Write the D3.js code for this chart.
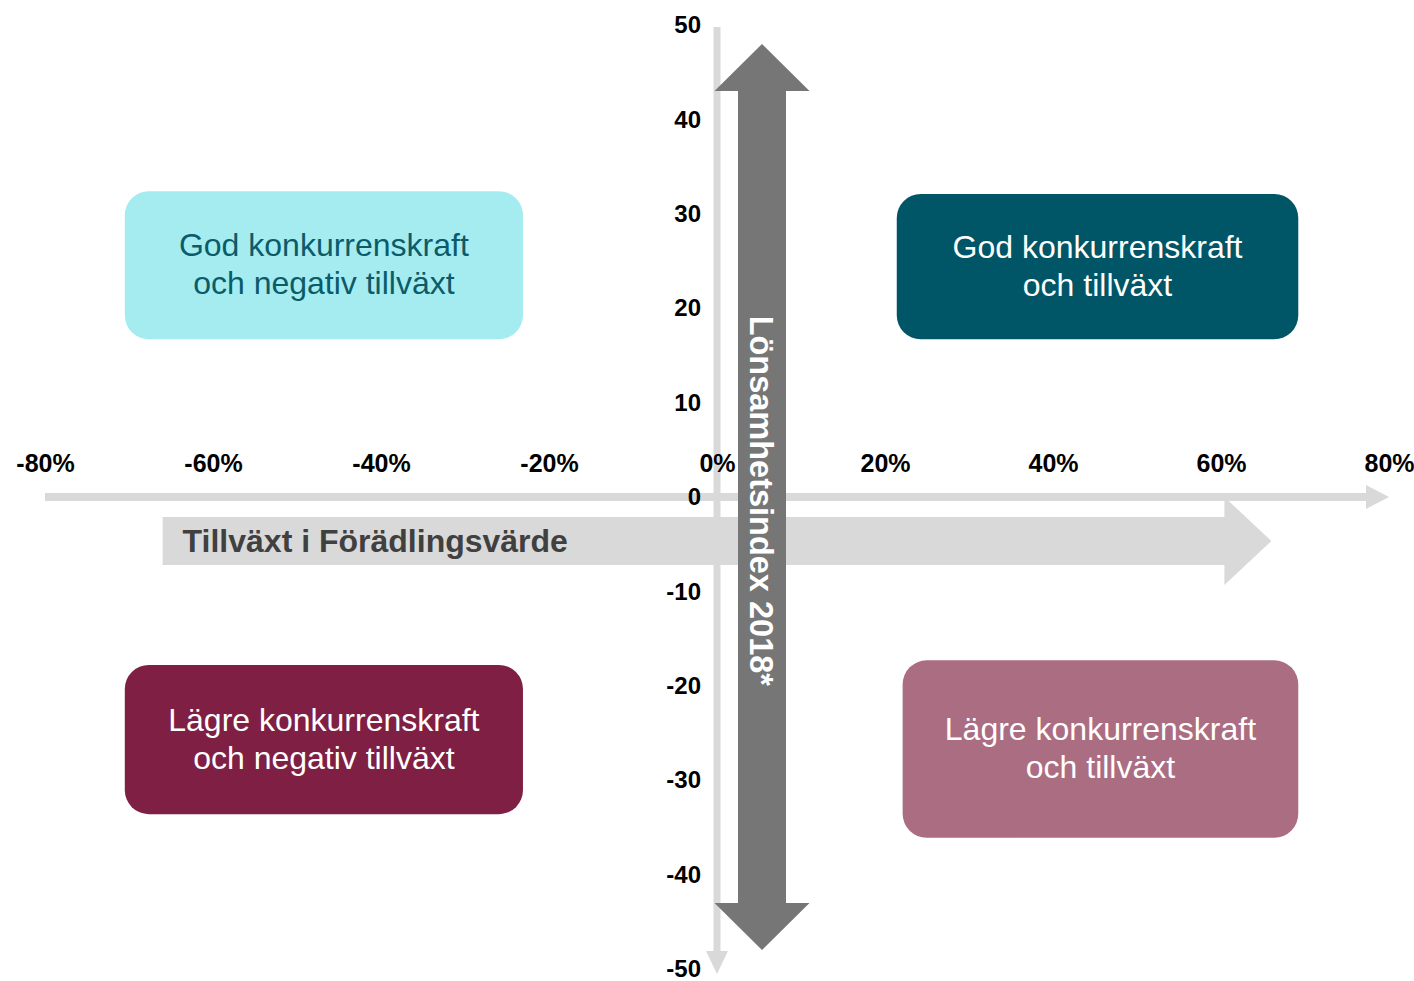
<!DOCTYPE html>
<html>
<head>
<meta charset="utf-8">
<script src="https://cdn.jsdelivr.net/npm/d3@7"></script>
<style>
  body { margin: 0; background: #fff; }
  svg { display: block; font-family: "Liberation Sans", Arial, sans-serif; }
</style>
</head>
<body>
<svg id="chart" width="1414" height="981"></svg>
<script>
// tick values
const xTicks = [-80, -60, -40, -20, 0, 20, 40, 60, 80];
const yTicks = [50, 40, 30, 20, 10, 0, -10, -20, -30, -40, -50];

// quadrant boxes, extents in data units (x %, y index)
const quadrantNames = ["topLeft", "topRight", "bottomLeft", "bottomRight"];
const quadrantX = [[-70.5, -23.1], [21.4, 69.2], [-70.5, -23.1], [22.1, 69.2]];
const quadrantY = [[32.4, 16.7], [32.1, 16.7], [-17.8, -33.6], [-17.3, -36.1]];
const quadrantLines = [
  ["God konkurrenskraft", "och negativ tillväxt"],
  ["God konkurrenskraft", "och tillväxt"],
  ["Lägre konkurrenskraft", "och negativ tillväxt"],
  ["Lägre konkurrenskraft", "och tillväxt"]
];
const quadrantFill = ["#a5ecf1", "#005566", "#7e1f43", "#ab6d81"];
const quadrantText = ["#0b5b68", "#ffffff", "#ffffff", "#ffffff"];

const xTitle = "Tillväxt i Förädlingsvärde";
const yTitle = "Lönsamhetsindex 2018*";

const svg = d3.select("#chart");

const x = d3.scaleLinear().domain([-80, 80]).range([45, 1389]);
const y = d3.scaleLinear().domain([-50, 50]).range([969, 25]);

const light = "#d9d9d9";
const dark = "#767676";
const hyphen = (v) => String(v).replace("\u2212", "-");

// thin horizontal axis with arrow
svg.append("line")
  .attr("x1", x(-80)).attr("x2", x(80) - 22)
  .attr("y1", y(0)).attr("y2", y(0))
  .attr("stroke", light).attr("stroke-width", 8);
svg.append("path")
  .attr("d", `M${x(80) - 23},${y(0) - 12}L${x(80)},${y(0)}L${x(80) - 23},${y(0) + 12}Z`)
  .attr("fill", light);

// thin vertical axis with arrow
svg.append("line")
  .attr("x1", x(0)).attr("x2", x(0))
  .attr("y1", y(50) + 2).attr("y2", y(-50) - 18)
  .attr("stroke", light).attr("stroke-width", 7);
svg.append("path")
  .attr("d", `M${x(0) - 11},${y(-50) - 18}L${x(0)},${y(-50) + 5}L${x(0) + 11},${y(-50) - 18}Z`)
  .attr("fill", light);

// big horizontal arrow
const hy = y(0) + 44;
const hx0 = x(-66), hx1 = x(66);
svg.append("path")
  .attr("d", `M${hx0},${hy - 24}L${hx1 - 47},${hy - 24}L${hx1 - 47},${hy - 44}L${hx1},${hy}` +
    `L${hx1 - 47},${hy + 44}L${hx1 - 47},${hy + 24}L${hx0},${hy + 24}Z`)
  .attr("fill", light);
svg.append("text")
  .attr("x", hx0 + 20).attr("y", hy + 11)
  .attr("font-size", 32).attr("font-weight", "bold")
  .attr("fill", "#404040")
  .text(xTitle);

// x tick labels
const xAxis = svg.append("g")
  .attr("transform", `translate(0,${y(0) - 25})`)
  .call(d3.axisTop(x).tickValues(xTicks).tickSize(0).tickPadding(0).tickFormat(d => d + "%"));
xAxis.select(".domain").remove();
xAxis.selectAll("text")
  .attr("font-size", 25).attr("font-weight", "bold")
  .attr("fill", "#000").attr("font-family", null);

// y tick labels
const yAxis = svg.append("g")
  .attr("transform", "translate(701,0)")
  .call(d3.axisLeft(y).tickValues(yTicks).tickSize(0).tickPadding(0).tickFormat(d => hyphen(d)));
yAxis.select(".domain").remove();
yAxis.selectAll("text")
  .attr("font-size", 24).attr("font-weight", "bold")
  .attr("fill", "#000").attr("font-family", null);

// big vertical arrow
const vx = x(0) + 45;
const vy0 = y(48), vy1 = y(-48);
svg.append("path")
  .attr("d", `M${vx},${vy0}L${vx + 47.5},${vy0 + 47}L${vx + 24},${vy0 + 47}L${vx + 24},${vy1 - 47}` +
    `L${vx + 47.5},${vy1 - 47}L${vx},${vy1}L${vx - 47.5},${vy1 - 47}L${vx - 24},${vy1 - 47}` +
    `L${vx - 24},${vy0 + 47}L${vx - 47.5},${vy0 + 47}Z`)
  .attr("fill", dark);
svg.append("text")
  .attr("transform", `translate(${vx - 12},${y(-0.4)}) rotate(90)`)
  .attr("text-anchor", "middle")
  .attr("font-size", 32.5).attr("font-weight", "bold")
  .attr("fill", "#fff")
  .text(yTitle);

// quadrant boxes
const boxes = svg.append("g").selectAll("g")
  .data(quadrantNames)
  .join("g");

boxes.append("rect")
  .attr("x", (d, i) => x(d3.min(quadrantX[i])))
  .attr("y", (d, i) => y(d3.max(quadrantY[i])))
  .attr("width", (d, i) => x(d3.max(quadrantX[i])) - x(d3.min(quadrantX[i])))
  .attr("height", (d, i) => y(d3.min(quadrantY[i])) - y(d3.max(quadrantY[i])))
  .attr("rx", 24).attr("ry", 24)
  .attr("fill", (d, i) => quadrantFill[i]);

boxes.append("text")
  .attr("text-anchor", "middle")
  .attr("font-size", 32)
  .attr("fill", (d, i) => quadrantText[i])
  .each(function (d, i) {
    const cx = (x(quadrantX[i][0]) + x(quadrantX[i][1])) / 2;
    const cy = (y(quadrantY[i][0]) + y(quadrantY[i][1])) / 2;
    d3.select(this).selectAll("tspan")
      .data(quadrantLines[i])
      .join("tspan")
      .attr("x", cx)
      .attr("y", (t, j) => cy - 9 + j * 38)
      .text(t => t);
  });
</script>
</body>
</html>
